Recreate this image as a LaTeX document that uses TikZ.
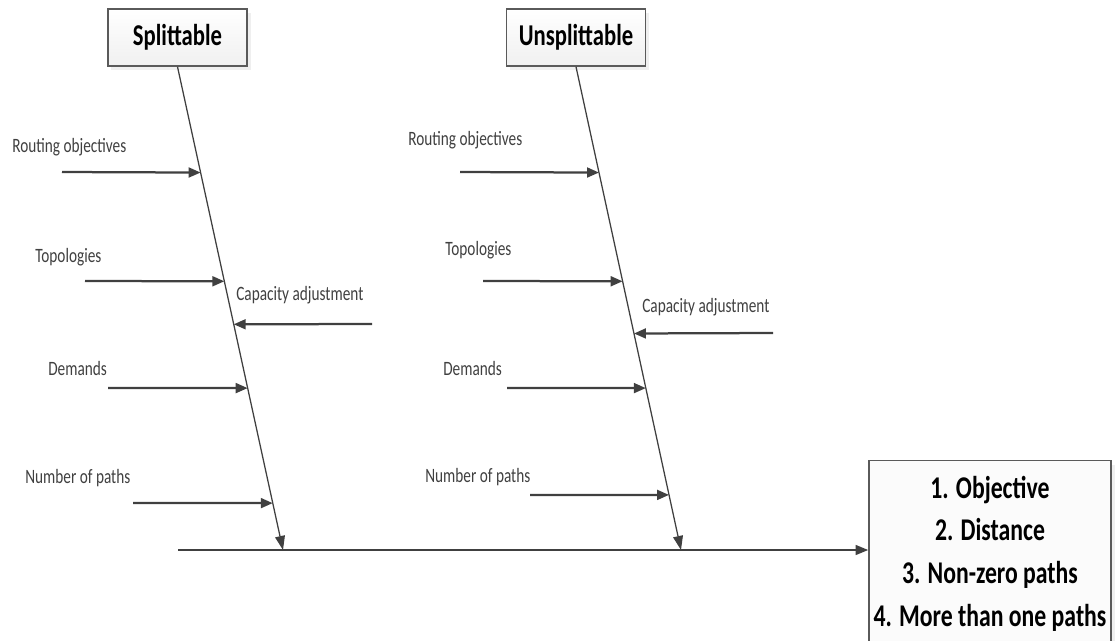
\documentclass[tikz,border=0pt]{standalone}
\usepackage{fontspec}
\setmainfont{Carlito}[FakeStretch=0.75]
\usepackage{xcolor}
\usepackage{tikz}
\usetikzlibrary{arrows.meta,shadows}

\definecolor{inkgray}{HTML}{404040}
\definecolor{boxgray}{HTML}{5A5A5A}

\begin{document}
\begin{tikzpicture}[x=0.025cm,y=-0.025cm,
  cause/.style={draw=inkgray, line width=1.6pt, -{Triangle[length=8.5pt,width=7pt]}},
  bone/.style={draw=inkgray, line width=0.9pt, -{Triangle[length=10pt,width=7pt]}},
  mainline/.style={draw=inkgray, line width=1.4pt, -{Triangle[length=9pt,width=7pt]}},
  lbl/.style={anchor=west, inner sep=0pt, text=inkgray, font=\fontsize{14.5}{17}\selectfont},
  headbox/.style={draw=boxgray, line width=1pt, top color=white, bottom color=gray!12,
    drop shadow={shadow xshift=2.5pt, shadow yshift=-2.5pt, fill=gray!25},
    minimum width=3.475cm, minimum height=1.425cm, font=\bfseries\fontsize{21.5}{25}\selectfont},
  resultbox/.style={draw=boxgray, line width=1pt, fill=gray!3,
    drop shadow={shadow xshift=3pt, shadow yshift=-3pt, fill=gray!25},
    minimum width=5.95cm, minimum height=4.65cm, align=center, font=\bfseries\fontsize{22.5}{30.5}\selectfont}]
\useasboundingbox (0,0) rectangle (1120,640);

\node[headbox] (spl) at (177.5,37.5) {Splittable};
\node[headbox] (uns) at (576,37.5) {Unsplittable};
\node[resultbox, anchor=north] (res) at (990,460) {1. Objective\\2. Distance\\3. Non-zero paths\\4. More than one paths};

\coordinate (tail) at (178,550);
\coordinate (s1) at (283,550);
\coordinate (s2) at (681,550);
\draw[mainline] (tail) -- (tail -| res.west);

\draw[bone] (spl.south) -- (s1) coordinate[pos=0.219] (a1) coordinate[pos=0.444] (a2)
  coordinate[pos=0.533] (a3) coordinate[pos=0.665] (a4) coordinate[pos=0.903] (a5);
\draw[bone] (uns.south) -- (s2) coordinate[pos=0.219] (b1) coordinate[pos=0.444] (b2)
  coordinate[pos=0.552] (b3) coordinate[pos=0.665] (b4) coordinate[pos=0.886] (b5);

\node[lbl] (routa) at (12,147) {Routing objectives};
\node[lbl] (topoa) at (35,257) {Topologies};
\node[lbl] (capa) at (236,295) {Capacity adjustment};
\node[lbl] (dema) at (48,368) {Demands};
\node[lbl] (patha) at (25,478) {Number of paths};
\coordinate (ra) at (62,172);
\coordinate (ta) at (85,281);
\coordinate (ca) at (372,324);
\coordinate (da) at (108,388);
\coordinate (pa) at (133,503);
\draw[cause] (ra) -- (a1);
\draw[cause] (ta) -- (a2);
\draw[cause] (ca) -- (a3);
\draw[cause] (da) -- (a4);
\draw[cause] (pa) -- (a5);

\node[lbl] (routb) at (408,140) {Routing objectives};
\node[lbl] (topob) at (445,250) {Topologies};
\node[lbl] (capb) at (642,307) {Capacity adjustment};
\node[lbl] (demb) at (443,368) {Demands};
\node[lbl] (pathb) at (425,477) {Number of paths};
\coordinate (rb) at (460,172);
\coordinate (tb) at (483,281);
\coordinate (cb) at (773,333);
\coordinate (db) at (507,388);
\coordinate (pb) at (530,495);
\draw[cause] (rb) -- (b1);
\draw[cause] (tb) -- (b2);
\draw[cause] (cb) -- (b3);
\draw[cause] (db) -- (b4);
\draw[cause] (pb) -- (b5);
\end{tikzpicture}
\end{document}
